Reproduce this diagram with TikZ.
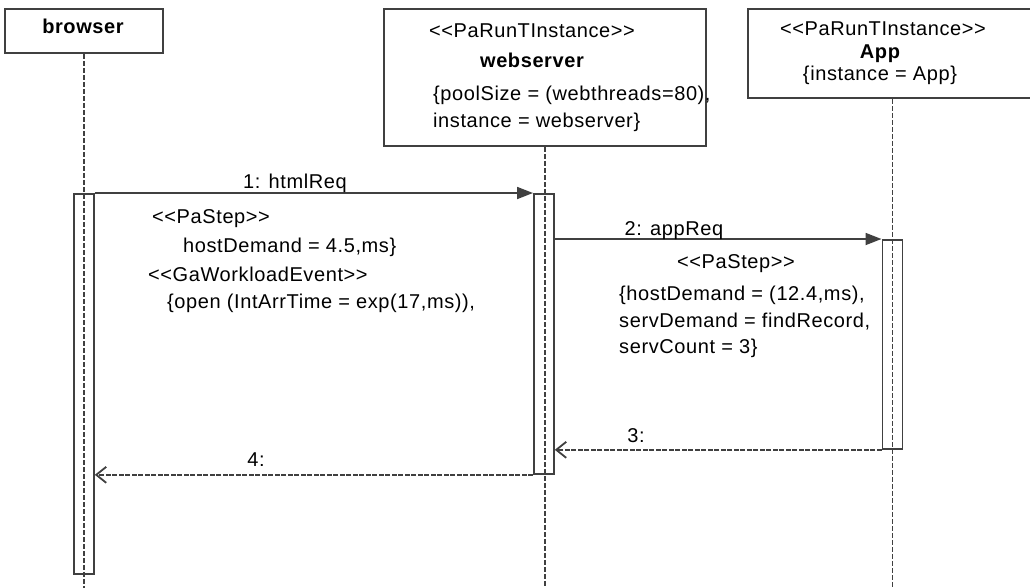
\documentclass[tikz,border=0pt]{standalone}
\usepackage{fontspec}
\setmainfont{Liberation Sans}[LetterSpace=3]
\usetikzlibrary{arrows.meta}
\definecolor{linegray}{RGB}{64,64,64}
\newcommand{\stereo}[1]{<{}<#1>{}>}
\tikzset{
  objbox/.style={draw=linegray, line width=1.8pt, anchor=north west, inner sep=0pt},
  actbar/.style={draw=linegray, line width=1.8pt, anchor=north west, minimum width=20pt, inner sep=0pt},
  lifeline/.style={draw=linegray, line width=1.8pt, dash pattern=on 5pt off 2pt},
  callmsg/.style={draw=linegray, line width=1.8pt, -{Triangle[length=16pt,width=12pt]}},
  replymsg/.style={draw=linegray, line width=1.8pt, dash pattern=on 5pt off 1.5pt, -{Straight Barb[length=10pt,width=16pt]}},
  lbl/.style={anchor=base, inner sep=0pt, font=\fontsize{20}{27}\selectfont},
  lblw/.style={lbl, anchor=base west},
}
\begin{document}
\begin{tikzpicture}[x=1pt, y=-1pt]
  \useasboundingbox (0,0) rectangle (1030,587);
  \coordinate (bottom) at (0,590);
  \node[objbox, minimum width=158pt, minimum height=44pt] (browser) at (4,8) {};
  \node[objbox, minimum width=322pt, minimum height=137pt] (webserver) at (383,8) {};
  \node[objbox, minimum width=289pt, minimum height=89pt] (app) at (747,8) {};
  \foreach \obj in {browser, webserver, app}
    \draw[lifeline] (\obj.south) -- (\obj.south |- bottom);
  \node[actbar, minimum height=380pt] (actB) at (73,193) {};
  \node[actbar, minimum height=280pt] (actW) at (533,193) {};
  \node[actbar, minimum height=209pt] (actA) at (881.5,239) {};
  \draw[callmsg] (actB.north east) -- (actW.north west);
  \draw[callmsg] (actW.east |- actA.north) -- (actA.north west);
  \draw[replymsg] (actA.south west) -- (actW.east |- actA.south);
  \draw[replymsg] (actW.south west) -- (actB.east |- actW.south);
  \node[lbl, font=\fontsize{20}{27}\selectfont\bfseries] (browserName) at (83,33) {browser};
  \node[lbl] (wsStereo) at (532,37) {\stereo{PaRunTInstance}};
  \node[lbl, font=\fontsize{20}{27}\selectfont\bfseries] (wsName) at (532,67) {webserver};
  \node[lblw] (wsPool) at (433,100) {\{poolSize = (webthreads=80),};
  \node[lblw] (wsInst) at (433,127) {instance = webserver\}};
  \node[lbl] (appStereo) at (883,35) {\stereo{PaRunTInstance}};
  \node[lbl, font=\fontsize{20}{27}\selectfont\bfseries] (appName) at (880,58) {App};
  \node[lbl] (appInst) at (880,80) {\{instance = App\}};
  \node[lbl] (msg1) at (295,188) {1: htmlReq};
  \node[lbl] (msg2) at (674,235) {2: appReq};
  \node[lbl] (msg3) at (636,442) {3:};
  \node[lbl] (msg4) at (256,466) {4:};
  \node[lblw] (stepB) at (152,223) {\stereo{PaStep}};
  \node[lblw] (demandB) at (183,252) {hostDemand = 4.5,ms\}};
  \node[lblw] (workload) at (148,281) {\stereo{GaWorkloadEvent}};
  \node[lblw] (openB) at (167,308) {\{open (IntArrTime = exp(17,ms)),};
  \node[lbl] (stepA) at (736,268) {\stereo{PaStep}};
  \node[lblw] (demandA) at (619,300) {\{hostDemand = (12.4,ms),};
  \node[lblw] (servA) at (619,327) {servDemand = findRecord,};
  \node[lblw] (countA) at (619,353) {servCount = 3\}};
\end{tikzpicture}
\end{document}
